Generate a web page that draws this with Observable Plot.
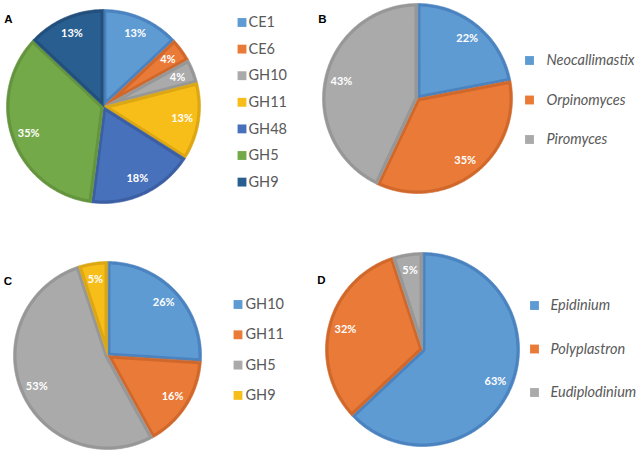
<!DOCTYPE html>
<html><head><meta charset="utf-8">
<script src="https://cdn.jsdelivr.net/npm/d3@7"></script>
<script src="https://cdn.jsdelivr.net/npm/@observablehq/plot@0.6"></script>
<style>body{margin:0;background:#fff}#chart{width:644px;height:456px}</style>
</head><body><div id="chart"></div>
<script>
// ---- data ----
const aCategories = ["CE1","CE6","GH10","GH11","GH48","GH5","GH9"];
const aValues = [13,4,4,13,18,35,13];
const bCategories = ["Neocallimastix","Orpinomyces","Piromyces"];
const bValues = [22,35,43];
const cCategories = ["GH10","GH11","GH5","GH9"];
const cValues = [26,16,53,5];
const dCategories = ["Epidinium","Polyplastron","Eudiplodinium"];
const dValues = [63,32,5];
const panelLetters = ["A","B","C","D"];

// ---- styles: [fill, border] ----
const pal = {
  blue:["#5f9bd3","#4a83bf"], orange:["#ea7a37","#d1682b"], gray:["#aaaaaa","#979797"],
  gold:["#f7be1a","#dca712"], blue2:["#4771bb","#3b5fa2"], green:["#74a94a","#64953e"],
  navy:["#295e90","#224f7b"]
};

const panels = [
  {letter:panelLetters[0], cats:aCategories, vals:aValues, colors:["blue","orange","gray","gold","blue2","green","navy"],
   cx:103, cy:106, r:97, lx:8, ly:19, sx:241.5, tx:248, y0:22, dy:26.6, italic:false},
  {letter:panelLetters[1], cats:bCategories, vals:bValues, colors:["blue","orange","gray"],
   cx:417, cy:98, r:95, lx:322, ly:19, sx:529, tx:546, y0:60, dy:39.5, italic:true},
  {letter:panelLetters[2], cats:cCategories, vals:cValues, colors:["blue","orange","gray","gold"],
   cx:107, cy:355, r:94, lx:7.5, ly:281, sx:237.5, tx:245, y0:304, dy:30.3, italic:false},
  {letter:panelLetters[3], cats:dCategories, vals:dValues, colors:["blue","orange","gray"],
   cx:422, cy:349, r:97, lx:321, ly:280, sx:534, tx:550, y0:305, dy:43.5, italic:true}
];

const outer = [], inner = [], labels = [], legend = [], letters = [];
const INSET = 3;
const pt = (cx, cy, rho, a) => ({x: cx + rho*Math.sin(a), y: cy - rho*Math.cos(a)});

panels.forEach((p, pi) => {
  const total = d3.sum(p.vals);
  let acc = 0;
  p.vals.forEach((v, i) => {
    const a0 = acc/total*2*Math.PI; acc += v;
    const a1 = acc/total*2*Math.PI;
    const id = pi + "-" + i;
    const [fill, border] = pal[p.colors[i]];
    const n = Math.max(4, Math.ceil((a1-a0)/(Math.PI/180)));
    outer.push({id, color:border, ...pt(p.cx,p.cy,0,0)});
    for (let k=0;k<=n;k++) outer.push({id, color:border, ...pt(p.cx,p.cy,p.r,a0+(a1-a0)*k/n)});
    const th = a1-a0, R = p.r-INSET, da = Math.asin(INSET/R), mid=(a0+a1)/2;
    if (th <= Math.PI) {
      inner.push({id, color:fill, ...pt(p.cx,p.cy,INSET/Math.sin(th/2),mid)});
    } else {
      inner.push({id, color:fill, ...pt(p.cx,p.cy,INSET,mid)});
      inner.push({id, color:fill, ...pt(p.cx,p.cy,INSET,a0+Math.PI/2)});
    }
    for (let k=0;k<=n;k++) inner.push({id, color:fill, ...pt(p.cx,p.cy,R,a0+da+(th-2*da)*k/n)});
    if (th > Math.PI) inner.push({id, color:fill, ...pt(p.cx,p.cy,INSET,a1-Math.PI/2)});
    labels.push({text:v+"%", ...pt(p.cx,p.cy,0.82*p.r,mid)});
    legend.push({label:p.cats[i], color:fill, sx:p.sx, tx:p.tx, y:p.y0+i*p.dy, italic:p.italic});
  });
  letters.push({text:p.letter, x:p.lx, y:p.ly});
});

const chart = Plot.plot({
  width:644, height:456, margin:0,
  x:{domain:[0,644], axis:null}, y:{domain:[456,0], axis:null},
  color:{type:"identity"},
  style:{fontFamily:"Lato, 'Open Sans', sans-serif", background:"#fff"},
  marks:[
    Plot.line(outer, {x:"x", y:"y", z:"id", fill:"color", stroke:"color", strokeWidth:0.6, curve:"linear-closed"}),
    Plot.line(inner, {x:"x", y:"y", z:"id", fill:"color", stroke:"none", curve:"linear-closed"}),
    Plot.text(labels, {x:"x", y:"y", text:"text", fill:"white", fontWeight:"bold", fontSize:11}),
    Plot.dot(legend, {x:"sx", y:"y", symbol:"square", r:5, fill:"color", stroke:null}),
    Plot.text(legend.filter(d=>!d.italic), {x:"tx", y:"y", text:"label", textAnchor:"start", fill:"#595959", fontSize:14.5}),
    Plot.text(legend.filter(d=>d.italic), {x:"tx", y:"y", text:"label", textAnchor:"start", fill:"#595959", fontSize:14.5, fontStyle:"italic"}),
    Plot.text(letters, {x:"x", y:"y", text:"text", fill:"black", fontWeight:"bold", fontSize:11.5, fontFamily:"'Liberation Sans', Arial, sans-serif"})
  ]
});
document.getElementById("chart").append(chart);
</script>
</body></html>
